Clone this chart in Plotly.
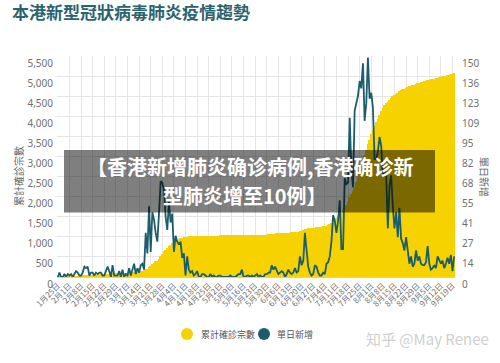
import pandas as pd
import plotly.graph_objects as go

# ---- data ----
start_date = "2020-01-25"
daily_new = [
    # Jan 25-31
    0, 3, 0, 0, 2, 0, 2,
    # Feb
    1, 2, 0, 2, 4, 3, 1, 1, 3, 7, 6, 7, 1, 3, 3, 1, 3, 2, 3, 3, 1, 1, 4, 7, 4, 0, 8, 1, 1,
    # Mar
    1, 4, 0, 5, 0, 2, 1, 6, 1, 5, 9, 2, 6, 3, 8, 9, 5, 30, 16, 48, 17, 44, 39, 30, 24, 43, 65, 64, 59, 41, 32,
    # Apr
    51, 37, 43, 17, 28, 24, 22, 24, 13, 16, 1, 14, 5, 3, 4, 1, 2, 4, 0, 0, 2, 2, 1, 0, 0, 2, 0, 1, 0, 0,
    # May
    1, 1, 0, 0, 0, 0, 0, 1, 0, 0, 0, 1, 2, 2, 5, 0, 0, 1, 1, 0, 1, 0, 1, 2, 0, 1, 0, 0, 2, 2, 3,
    # Jun
    3, 8, 5, 7, 4, 2, 3, 4, 3, 0, 2, 5, 3, 2, 3, 6, 3, 4, 14, 8, 11, 30, 18, 7, 3, 1, 2, 8, 7, 3,
    # Jul
    1, 1, 3, 2, 9, 10, 14, 24, 42, 38, 30, 38, 52, 19, 19, 67, 63, 64, 108, 73, 61, 113, 118, 123, 133, 128, 145, 106, 118, 149, 121,
    # Aug
    125, 115, 80, 80, 85, 95, 89, 69, 72, 69, 33, 62, 69, 48, 33, 44, 27, 47, 26, 23, 18, 27, 18, 9, 14, 7, 9, 18, 11, 14, 9,
    # Sep 1-20
    8, 8, 10, 21, 9, 5, 6, 8, 6, 14, 12, 9, 11, 6, 9, 13, 9, 15, 4, 14,
]
cumulative = [
    # Jan 25-31
    5, 8, 8, 8, 10, 10, 12,
    # Feb
    13, 15, 15, 17, 21, 24, 25, 26, 29, 36, 42, 49, 50, 53, 56, 57, 60, 62, 65, 68, 69, 70, 74, 81, 85, 85, 93, 94, 95,
    # Mar
    96, 100, 100, 105, 105, 107, 108, 114, 115, 120, 129, 131, 137, 140, 148, 157, 162, 192, 208, 256, 273, 317, 356, 386, 410, 453, 518, 582, 641, 682, 714,
    # Apr
    765, 802, 845, 862, 890, 914, 936, 960, 973, 989, 990, 1004, 1009, 1012, 1016, 1017, 1019, 1023, 1023, 1023, 1025, 1027, 1028, 1028, 1028, 1030, 1030, 1031, 1031, 1031,
    # May
    1032, 1033, 1033, 1033, 1033, 1033, 1033, 1034, 1034, 1034, 1034, 1035, 1037, 1039, 1044, 1044, 1044, 1045, 1046, 1046, 1047, 1047, 1048, 1050, 1050, 1051, 1051, 1051, 1053, 1055, 1058,
    # Jun
    1061, 1069, 1074, 1081, 1085, 1087, 1090, 1094, 1097, 1097, 1099, 1104, 1107, 1109, 1112, 1118, 1121, 1125, 1139, 1147, 1158, 1188, 1206, 1213, 1216, 1217, 1219, 1227, 1234, 1237,
    # Jul
    1250, 1255, 1260, 1268, 1280, 1295, 1315, 1345, 1390, 1440, 1480, 1530, 1590, 1625, 1660, 1730, 1800, 1870, 1980, 2060, 2130, 2250, 2370, 2500, 2640, 2770, 2920, 3030, 3150, 3300, 3420,
    # Aug
    3550, 3670, 3760, 3850, 3940, 4040, 4130, 4200, 4270, 4330, 4360, 4410, 4460, 4500, 4530, 4565, 4590, 4620, 4645, 4668, 4688, 4712, 4732, 4745, 4762, 4772, 4785, 4805, 4818, 4833, 4845,
    # Sep 1-20
    4856, 4866, 4878, 4900, 4910, 4917, 4925, 4935, 4943, 4958, 4971, 4981, 4993, 5000, 5010, 5024, 5034, 5050, 5055, 5070,
]
tick_labels = [
    "1月25日", "2月1日", "2月8日", "2月15日", "2月22日", "2月29日", "3月7日", "3月14日",
    "3月21日", "3月28日", "4月4日", "4月11日", "4月18日", "4月25日", "5月2日", "5月9日",
    "5月16日", "5月23日", "5月30日", "6月6日", "6月13日", "6月20日", "6月27日", "7月4日",
    "7月11日", "7月18日", "7月25日", "8月1日", "8月8日", "8月15日", "8月22日", "8月29日",
    "9月5日", "9月12日", "9月19日",
]
series_names = ["累計確診宗數", "單日新增"]
title_text = "本港新型冠狀病毒肺炎疫情趨勢"
overlay_lines = ["【香港新增肺炎确诊病例,香港确诊新", "型肺炎增至10例】"]
watermark = "知乎 @May Renee"

dates = pd.date_range(start_date, periods=len(daily_new), freq="D")
tick_dates = pd.date_range(start_date, periods=len(tick_labels), freq="7D")

YELLOW = "#F6D300"
TEAL = "#1C5D6B"
GRID = "#E6E6E6"
TICKC = "#707070"
CJK = "Noto Sans CJK TC, Noto Sans, sans-serif"

fig = go.Figure()
fig.add_trace(go.Bar(x=dates, y=cumulative, marker=dict(color=YELLOW, line=dict(width=0)),
                     name=series_names[0], showlegend=False, yaxis="y"))
fig.add_trace(go.Scatter(x=dates, y=daily_new, mode="lines", line=dict(color=TEAL, width=1.8),
                         name=series_names[1], showlegend=False, yaxis="y2"))

L, R, T, B = 57, 45, 56, 86
W, H = 500, 363
pw, ph = W - L - R, H - T - B


def px(x):
    return (x - L) / pw


def py(y):
    return (H - B - y) / ph


def ann(text, x, y, size, color, family=CJK, angle=0, xanchor="center"):
    return dict(text=text, textangle=angle, x=px(x), y=py(y), xref="paper", yref="paper",
                xanchor=xanchor, yanchor="middle", showarrow=False,
                font=dict(family=family, size=size, color=color))


def dot(cx, cy, color, d=12):
    return dict(type="circle", xref="paper", yref="paper", xsizemode="pixel", ysizemode="pixel",
                xanchor=px(cx), yanchor=py(cy), x0=-d / 2, x1=d / 2, y0=-d / 2, y1=d / 2,
                fillcolor=color, line=dict(width=0))


fig.update_layout(
    width=W, height=H,
    margin=dict(l=L, r=R, t=T, b=B, pad=0),
    paper_bgcolor="white", plot_bgcolor="white",
    bargap=0,
    showlegend=False,
    title=dict(text="<b>" + title_text + "</b>", x=12 / W, xanchor="left",
               y=1 - 13 / H, yanchor="middle",
               font=dict(family=CJK, size=17, color="#2B6470")),
    xaxis=dict(
        type="date",
        range=[dates[0] - pd.Timedelta(hours=12), dates[-1] + pd.Timedelta(hours=12)],
        tickvals=tick_dates, ticktext=tick_labels, tickangle=-45,
        tickfont=dict(family=CJK, size=8, color=TICKC),
        showgrid=True, gridcolor=GRID, gridwidth=1,
        showline=True, linecolor="#CFCFCF", linewidth=1,
        ticks="", zeroline=False,
    ),
    yaxis=dict(
        range=[0, 5500], dtick=500, tickformat=",",
        tickfont=dict(family="Noto Sans", size=10, color=TICKC),
        showgrid=True, gridcolor=GRID, gridwidth=1, zeroline=False,
        ticks="", ticklabelshift=7, ticklabelstandoff=3,
    ),
    yaxis2=dict(
        range=[0, 150], dtick=150 / 11, tick0=0, tickformat=".0f",
        overlaying="y", side="right",
        tickfont=dict(family="Noto Sans", size=10, color=TICKC),
        showgrid=False, zeroline=False, ticks="", ticklabelshift=7, ticklabelstandoff=6,
    ),
    shapes=[
        dict(type="rect", xref="paper", yref="paper",
             x0=px(64), x1=px(435), y0=py(212.5), y1=py(150),
             fillcolor="rgba(0,0,0,0.5)", line=dict(width=0), layer="above"),
        dot(187, 334, YELLOW),
        dot(264, 334, TEAL),
    ],
    annotations=[
        ann(series_names[0], 18, 176, 10, "#666666", angle=-90),
        ann(series_names[1], 485, 177, 10, "#666666", angle=90),
        ann("<b>" + overlay_lines[0] + "</b>", 250, 166, 20, "white", family="Noto Sans CJK SC"),
        ann("<b>" + overlay_lines[1] + "</b>", 245, 195, 20, "white", family="Noto Sans CJK SC"),
        ann(watermark, 427, 338, 15, "#D0D0D0", family="Noto Sans CJK SC"),
        ann(series_names[0], 199, 334, 9, "#555555", xanchor="left"),
        ann(series_names[1], 275, 334, 9, "#555555", xanchor="left"),
    ],
)

fig.write_html("out.html")
